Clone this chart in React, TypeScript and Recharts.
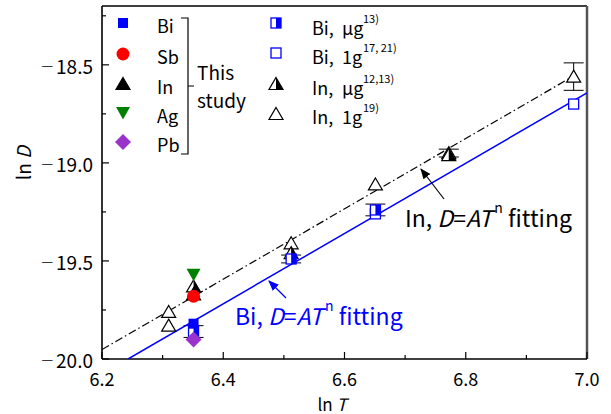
import React from 'react';
import { ComposedChart, Scatter, XAxis, YAxis, ErrorBar, ReferenceLine } from 'recharts';

// ln T / ln D readings, one set per series
const biThisX = [6.351];
const biThisY = [-19.82];
const sbThisX = [6.351];
const sbThisY = [-19.68];
const inThisX = [6.351];
const inThisY = [-19.67];
const agThisX = [6.351];
const agThisY = [-19.57];
const pbThisX = [6.351];
const pbThisY = [-19.9];

const biUgX = [6.351, 6.512, 6.651];
const biUgY = [-19.86, -19.49, -19.24];
const biUgErr = [0.03, 0.02, 0.03];
const bi1gX = [6.651, 6.978];
const bi1gY = [-19.26, -18.7];
const inUgX = [6.351, 6.512, 6.772];
const inUgY = [-19.63, -19.46, -18.96];
const in1gX = [6.31, 6.31, 6.512, 6.651, 6.772, 6.978];
const in1gY = [-19.76, -19.83, -19.41, -19.11, -18.95, -18.56];
const in1gErr = [0, 0, 0, 0, 0.02, 0.07];

// fitted lines D = A T^n
const biFitX = [6.243, 7.0];
const biFitY = [-20.0, -18.643];
const inFitX = [6.2, 6.98];
const inFitY = [-19.952, -18.553];

const xTicks = [6.2, 6.3, 6.4, 6.5, 6.6, 6.7, 6.8, 6.9, 7.0];
const xMajor = [6.2, 6.4, 6.6, 6.8, 7.0];
const yTicks = [-20.0, -19.75, -19.5, -19.25, -19.0, -18.75, -18.5, -18.25];
const yMajor = [-20.0, -19.5, -19.0, -18.5];

const FONT = '"Noto Sans CJK JP", "Noto Sans", sans-serif';
const BLUE = '#0000ff';

const pts = (xs: number[], ys: number[], es?: number[]) =>
  xs.map((x, i) => ({ x, y: ys[i], e: es ? es[i] : 0 }));

const isIn = (arr: number[], v: number) => arr.some((a) => Math.abs(a - v) < 1e-6);

// marker drawings
const filledSquare = (cx: number, cy: number) => (
  <rect x={cx - 5} y={cy - 5} width={10} height={10} fill={BLUE} />
);
const redCircle = (cx: number, cy: number) => <circle cx={cx} cy={cy} r={6.5} fill="#ff0000" />;
const triUp = (cx: number, cy: number, fill: string) => (
  <polygon
    points={`${cx},${cy - 6.5} ${cx + 7},${cy + 5.5} ${cx - 7},${cy + 5.5}`}
    fill={fill}
    stroke="#000"
    strokeWidth={1.2}
  />
);
const triDown = (cx: number, cy: number) => (
  <polygon points={`${cx - 7},${cy - 6} ${cx + 7},${cy - 6} ${cx},${cy + 6.5}`} fill="#008000" />
);
const diamond = (cx: number, cy: number) => (
  <polygon points={`${cx},${cy - 8} ${cx + 8},${cy} ${cx},${cy + 8} ${cx - 8},${cy}`} fill="#9933cc" />
);
const openSquare = (cx: number, cy: number) => (
  <rect x={cx - 5} y={cy - 5} width={10} height={10} fill="#fff" stroke={BLUE} strokeWidth={1.3} />
);
const halfSquare = (cx: number, cy: number) => (
  <g>
    <rect x={cx - 5} y={cy - 5} width={10} height={10} fill="#fff" stroke={BLUE} strokeWidth={1.3} />
    <rect x={cx} y={cy - 5} width={5} height={10} fill={BLUE} />
  </g>
);
const halfTri = (cx: number, cy: number) => (
  <g>
    <polygon
      points={`${cx},${cy - 6.5} ${cx + 7},${cy + 5.5} ${cx - 7},${cy + 5.5}`}
      fill="#fff"
      stroke="#000"
      strokeWidth={1.2}
    />
    <polygon points={`${cx},${cy - 6.5} ${cx + 7},${cy + 5.5} ${cx},${cy + 5.5}`} fill="#000" />
  </g>
);

const XTick = (p: any) => {
  const v = p.payload.value;
  const major = isIn(xMajor, v);
  return (
    <g>
      <line x1={p.x} x2={p.x} y1={p.y} y2={p.y - (major ? 7 : 4)} stroke="#000" strokeWidth={1.2} />
      {major && (
        <text x={p.x} y={p.y + 19} textAnchor="middle" dominantBaseline="central" fontSize={18} fontFamily={FONT} fill="#000">
          {v.toFixed(1)}
        </text>
      )}
    </g>
  );
};

const YTick = (p: any) => {
  const v = p.payload.value;
  const major = isIn(yMajor, v);
  return (
    <g>
      <line x1={p.x} x2={p.x + (major ? 7 : 4)} y1={p.y} y2={p.y} stroke="#000" strokeWidth={1.2} />
      {major && (
        <text x={p.x - 9} y={p.y} textAnchor="end" dominantBaseline="central" fontSize={19} fontFamily={FONT} fill="#000">
          <tspan fontSize={13} dy={-1}>{'\u2014'}</tspan>
          <tspan dx={3} dy={1}>{Math.abs(v).toFixed(1)}</tspan>
        </text>
      )}
    </g>
  );
};

const noDot = () => <g />;

export default function App() {
  return (
    <div style={{ position: 'absolute', left: 0, top: 0, width: 611, height: 414, background: '#fff' }}>
      <ComposedChart width={611} height={414} margin={{ top: 6, right: 24, bottom: 0, left: 0 }}>
        <XAxis
          type="number"
          dataKey="x"
          domain={[6.2, 7.0]}
          ticks={xTicks}
          interval={0}
          height={55}
          tickSize={0}
          tickMargin={0}
          tickLine={false}
          tick={XTick}
          axisLine={{ stroke: '#000', strokeWidth: 1.6 }}
          allowDataOverflow
        />
        <YAxis
          type="number"
          dataKey="y"
          domain={[-20.0, -18.2]}
          ticks={yTicks}
          interval={0}
          width={102}
          tickSize={0}
          tickMargin={0}
          tickLine={false}
          tick={YTick}
          axisLine={{ stroke: '#000', strokeWidth: 1.6 }}
          allowDataOverflow
        />
        <ReferenceLine y={-18.2} stroke="#000" strokeWidth={1.6} />
        <ReferenceLine x={7.0} stroke="#555" strokeWidth={2.5} />

        <Scatter
          data={pts(inFitX, inFitY)}
          line={{ stroke: '#000', strokeWidth: 1.2, strokeDasharray: '8 3 1.5 3' }}
          shape={noDot}
          isAnimationActive={false}
        />
        <Scatter
          data={pts(biFitX, biFitY)}
          line={{ stroke: BLUE, strokeWidth: 1.5 }}
          shape={noDot}
          isAnimationActive={false}
        />

        <Scatter data={pts(in1gX, in1gY, in1gErr)} shape={(p: any) => triUp(p.cx, p.cy, '#fff')} isAnimationActive={false}>
          <ErrorBar dataKey="e" direction="y" width={10} stroke="#000" strokeWidth={1} />
        </Scatter>
        <Scatter data={pts(inUgX, inUgY)} shape={(p: any) => halfTri(p.cx, p.cy)} isAnimationActive={false} />
        <Scatter data={pts(bi1gX, bi1gY)} shape={(p: any) => openSquare(p.cx, p.cy)} isAnimationActive={false} />
        <Scatter data={pts(biUgX, biUgY, biUgErr)} shape={(p: any) => halfSquare(p.cx, p.cy)} isAnimationActive={false}>
          <ErrorBar dataKey="e" direction="y" width={10} stroke="#000" strokeWidth={1} />
        </Scatter>

        <Scatter data={pts(inThisX, inThisY)} shape={(p: any) => triUp(p.cx, p.cy, '#000')} isAnimationActive={false} />
        <Scatter data={pts(sbThisX, sbThisY)} shape={(p: any) => redCircle(p.cx, p.cy)} isAnimationActive={false} />
        <Scatter data={pts(biThisX, biThisY)} shape={(p: any) => filledSquare(p.cx, p.cy)} isAnimationActive={false} />
        <Scatter data={pts(agThisX, agThisY)} shape={(p: any) => triDown(p.cx, p.cy)} isAnimationActive={false} />
        <Scatter data={pts(pbThisX, pbThisY)} shape={(p: any) => diamond(p.cx, p.cy)} isAnimationActive={false} />
      </ComposedChart>

      <svg
        width={611}
        height={414}
        style={{ position: 'absolute', left: 0, top: 0, pointerEvents: 'none' }}
        fontFamily={FONT}
      >
        {/* axis titles */}
        <text x={332} y={403} textAnchor="middle" dominantBaseline="central" fontSize={17}>
          ln  <tspan fontStyle="italic">T</tspan>
        </text>
        <text
          x={22}
          y={163}
          textAnchor="middle"
          dominantBaseline="central"
          fontSize={19}
          transform="rotate(-90 22 163)"
        >
          ln <tspan fontStyle="italic">D</tspan>
        </text>

        {/* legend: this study */}
        {filledSquare(123, 23)}
        {redCircle(123, 54)}
        {triUp(123, 84, '#000')}
        {triDown(123, 113)}
        {diamond(123, 142)}
        {['Bi', 'Sb', 'In', 'Ag', 'Pb'].map((s, i) => (
          <text key={s} x={157} y={[25, 56, 86, 115, 144][i]} dominantBaseline="central" fontSize={18}>
            {s}
          </text>
        ))}
        <path d="M181,18 H188 V154 H181 M188,86 H194" fill="none" stroke="#000" strokeWidth={1.2} />
        <text x={197} y={71} dominantBaseline="central" fontSize={19}>This</text>
        <text x={197} y={99} dominantBaseline="central" fontSize={19}>study</text>

        {/* legend: literature */}
        {halfSquare(276, 23)}
        {openSquare(276, 53)}
        {halfTri(276, 84)}
        {triUp(276, 114, '#fff')}
        {[
          ['Bi,', '\u03bcg', '13)'],
          ['Bi,', '1g', '17, 21)'],
          ['In,', '\u03bcg', '12,13)'],
          ['In,', '1g', '19)'],
        ].map((r, i) => {
          const y = [27, 56, 87, 116][i];
          return (
            <g key={i}>
              <text x={312} y={y} dominantBaseline="central" fontSize={18}>{r[0]}</text>
              <text x={342} y={y} dominantBaseline="central" fontSize={18}>{r[1]}</text>
              <text x={363} y={y - 9} dominantBaseline="central" fontSize={11}>{r[2]}</text>
            </g>
          );
        })}

        {/* fit annotations */}
        <defs>
          <marker id="ahK" viewBox="0 0 10 10" refX="9" refY="5" markerWidth="9" markerHeight="9" orient="auto">
            <path d="M0,1 L10,5 L0,9 z" fill="#000" />
          </marker>
          <marker id="ahB" viewBox="0 0 10 10" refX="9" refY="5" markerWidth="9" markerHeight="9" orient="auto">
            <path d="M0,1 L10,5 L0,9 z" fill={BLUE} />
          </marker>
        </defs>
        <line x1={444} y1={199} x2={421} y2={169} stroke="#000" strokeWidth={1.2} markerEnd="url(#ahK)" />
        <text x={405} y={217} dominantBaseline="central" fontSize={23} fill="#000">
          In, <tspan fontStyle="italic">D</tspan>=<tspan fontStyle="italic">AT</tspan>
          <tspan fontSize={14} dx={2} dy={-10}>n</tspan>
          <tspan dy={10}> fitting</tspan>
        </text>
        <line x1={286} y1={298} x2={269} y2={281} stroke={BLUE} strokeWidth={1.2} markerEnd="url(#ahB)" />
        <text x={235} y={315} dominantBaseline="central" fontSize={23} fill={BLUE}>
          Bi, <tspan fontStyle="italic">D</tspan>=<tspan fontStyle="italic">AT</tspan>
          <tspan fontSize={14} dx={2} dy={-10}>n</tspan>
          <tspan dy={10}> fitting</tspan>
        </text>
      </svg>
    </div>
  );
}
